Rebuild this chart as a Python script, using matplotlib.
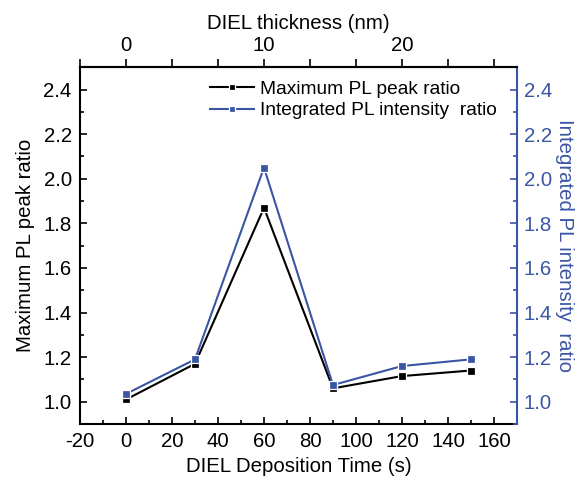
import numpy as np
import matplotlib
matplotlib.use("Agg")
import matplotlib.pyplot as plt
from matplotlib.ticker import MultipleLocator

plt.rcParams['font.family'] = ['Liberation Sans', 'DejaVu Sans']
plt.rcParams['axes.unicode_minus'] = False

# Deposition time (s) and measured ratios
deposition_time = [0, 30, 60, 90, 120, 150]
max_pl_peak_ratio = [1.01, 1.17, 1.87, 1.06, 1.115, 1.14]
integrated_pl_ratio = [1.035, 1.19, 2.05, 1.075, 1.16, 1.19]

# Top axis: DIEL thickness grows 1 nm per 6 s of deposition
seconds_per_nm = 6
thickness_labels_nm = [0, 10, 20]

BLUE = '#3a55a4'
BLACK = '#000000'
FS = 14.7

fig = plt.figure(figsize=(5.81, 4.82), dpi=100)
ax = fig.add_axes([0.1377, 0.1203, 0.7521, 0.7401])

ax.plot(deposition_time, max_pl_peak_ratio, color=BLACK, lw=1.5, marker='s',
        ms=5.6, mfc=BLACK, mec='white', mew=0.9, label='Maximum PL peak ratio', zorder=3)
ax.plot(deposition_time, integrated_pl_ratio, color=BLUE, lw=1.5, marker='s',
        ms=5.6, mfc=BLUE, mec='white', mew=0.9, label='Integrated PL intensity  ratio', zorder=3)

ax.set_xlim(-20, 170)
ax.set_ylim(0.9, 2.5)
ax.xaxis.set_major_locator(MultipleLocator(20))
ax.xaxis.set_minor_locator(MultipleLocator(10))
ax.yaxis.set_minor_locator(MultipleLocator(0.1))
ax.set_yticks(np.round(np.arange(1.0, 2.41, 0.2), 1))
ax.yaxis.set_major_formatter(plt.FormatStrFormatter('%.1f'))
ax.tick_params(axis='both', which='major', direction='in', length=5, width=1.2,
               labelsize=FS, pad=6)
ax.tick_params(axis='both', which='minor', direction='in', length=3, width=1.2)
ax.tick_params(axis='x', which='both', top=False)
ax.tick_params(axis='y', which='both', right=False)
for s in ax.spines.values():
    s.set_linewidth(1.5)
ax.spines['right'].set_visible(False)
ax.set_xlabel('DIEL Deposition Time (s)', fontsize=FS, labelpad=4)
ax.set_ylabel('Maximum PL peak ratio', fontsize=FS, labelpad=6)

# Right axis, same scale, for the integrated intensity ratio
ax2 = ax.twinx()
ax2.set_ylim(ax.get_ylim())
ax2.set_yticks(np.round(np.arange(1.0, 2.41, 0.2), 1))
ax2.yaxis.set_minor_locator(MultipleLocator(0.1))
ax2.yaxis.set_major_formatter(plt.FormatStrFormatter('%.1f'))
ax2.tick_params(axis='y', which='major', direction='in', length=5, width=1.2,
                colors=BLUE, labelsize=FS, pad=5)
ax2.tick_params(axis='y', which='minor', direction='in', length=3, width=1.2, colors=BLUE)
for name, s in ax2.spines.items():
    s.set_visible(name == 'right')
ax2.spines['right'].set_color(BLUE)
ax2.spines['right'].set_linewidth(1.5)
ax2.set_ylabel('Integrated PL intensity  ratio', fontsize=FS, color=BLUE,
               rotation=270, labelpad=16)

# Top axis showing the corresponding film thickness
ax3 = ax.twiny()
ax3.set_xlim(ax.get_xlim())
top_ticks = np.arange(-20, 161, 20)
ax3.set_xticks(top_ticks)
ax3.set_xticklabels([str(int(t / seconds_per_nm)) if (t % seconds_per_nm == 0 and
                     int(t / seconds_per_nm) in thickness_labels_nm) else ''
                     for t in top_ticks])
ax3.tick_params(axis='x', which='major', direction='out', length=6, width=1.2,
                labelsize=FS, pad=3)
for name, s in ax3.spines.items():
    s.set_visible(name == 'top')
ax3.spines['top'].set_linewidth(1.5)
ax3.set_xlabel('DIEL thickness (nm)', fontsize=FS, labelpad=5)

h1, l1 = ax.get_legend_handles_labels()
leg = ax2.legend(h1, l1, loc='upper right', bbox_to_anchor=(0.985, 1.0), frameon=False,
                 fontsize=13.8, handlelength=2.3, handletextpad=0.3, markerscale=0.75,
                 labelspacing=0.2, borderaxespad=0.3)

fig.savefig('out.png', dpi=100)
